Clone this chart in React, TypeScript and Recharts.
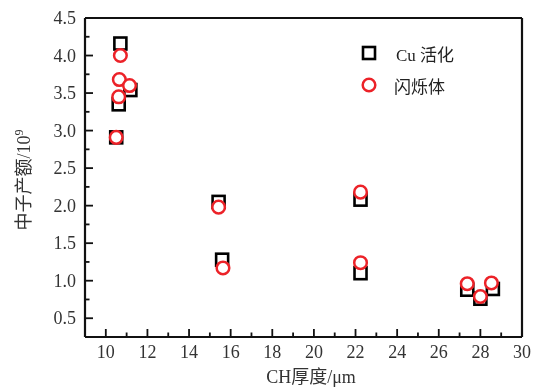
import React from "react";
import { ScatterChart, Scatter, XAxis, YAxis, ReferenceLine } from "recharts";

const cuX = [10.7, 10.62, 11.18, 10.5, 15.42, 15.59, 22.24, 22.24, 27.37, 28.0, 28.6];
const cuY = [4.16, 3.35, 3.54, 2.91, 2.05, 1.28, 2.08, 1.1, 0.88, 0.76, 0.89];
const scX = [10.7, 10.65, 11.14, 10.62, 10.5, 15.42, 15.63, 22.24, 22.24, 27.37, 28.0, 28.53];
const scY = [4.0, 3.68, 3.6, 3.45, 2.91, 1.98, 1.17, 2.18, 1.24, 0.96, 0.79, 0.97];

const xMajor = [10, 12, 14, 16, 18, 20, 22, 24, 26, 28, 30];
const xMinor = [11, 13, 15, 17, 19, 21, 23, 25, 27, 29];
const yMajor = [0.5, 1.0, 1.5, 2.0, 2.5, 3.0, 3.5, 4.0, 4.5];
const yMinor = [0.75, 1.25, 1.75, 2.25, 2.75, 3.25, 3.75, 4.25];

const seriesNames = ["Cu 活化", "闪烁体"];
const xTitle = "CH厚度/μm";
const yTitle = "中子产额/10";
const yTitleSup = "9";

const cuData = cuX.map((x, i) => ({ x, y: cuY[i] }));
const scData = scX.map((x, i) => ({ x, y: scY[i] }));

const FONT = "Liberation Serif, Noto Sans CJK SC, serif";
const AX = "#111";
const RED = "#ec2228";

const yTicks = [...yMajor, ...yMinor].sort((a, b) => a - b);
const xTicks = [...xMajor, ...xMinor].sort((a, b) => a - b);

const YTick = (props: any) => {
  const { x, y, payload } = props;
  const v = Number(payload.value);
  const major = yMajor.some((m) => Math.abs(m - v) < 1e-6);
  const axisX = Number(x) + 9;
  const len = major ? 8 : 4.5;
  return (
    <g>
      <rect x={axisX} y={Number(y) - 0.9} width={len} height={1.8} fill={AX} />
      {major && (
        <text x={x} y={Number(y) + 6} textAnchor="end" fontSize={18} fontFamily={FONT} fill="#333">
          {v.toFixed(1)}
        </text>
      )}
    </g>
  );
};

const XTick = (props: any) => {
  const { x, y, payload } = props;
  const v = Number(payload.value);
  const major = xMajor.includes(v);
  const axisY = Number(y) - 9;
  const len = major ? 8 : 4.5;
  return (
    <g>
      <rect x={Number(x) - 0.9} y={axisY - len} width={1.8} height={len} fill={AX} />
      {major && (
        <text x={x} y={axisY + 21} textAnchor="middle" fontSize={18} fontFamily={FONT} fill="#333">
          {v}
        </text>
      )}
    </g>
  );
};

const Square = (props: any) => {
  const { cx, cy } = props;
  return <rect x={cx - 6} y={cy - 6} width={12} height={12} fill="none" stroke="#000" strokeWidth={2.6} />;
};

const Circ = (props: any) => {
  const { cx, cy } = props;
  return <circle cx={cx} cy={cy} r={6.3} fill="#fff" stroke={RED} strokeWidth={2.5} />;
};

const LegendBox = () => (
  <div
    style={{
      position: "absolute",
      left: 360,
      top: 37,
      width: 160,
      fontFamily: FONT,
      fontSize: 17,
      color: "#222",
    }}
  >
    <div style={{ display: "flex", alignItems: "center", height: 32 }}>
      <svg width={18} height={18}>
        <rect x={3} y={3} width={12} height={12} fill="none" stroke="#000" strokeWidth={2.6} />
      </svg>
      <span style={{ marginLeft: 18 }}>{seriesNames[0]}</span>
    </div>
    <div style={{ display: "flex", alignItems: "center", height: 32 }}>
      <svg width={18} height={18}>
        <circle cx={9} cy={9} r={6.3} fill="none" stroke={RED} strokeWidth={2.5} />
      </svg>
      <span style={{ marginLeft: 16 }}>{seriesNames[1]}</span>
    </div>
  </div>
);

export default function App() {
  return (
    <div style={{ position: "fixed", left: 0, top: 0, width: 534, height: 387, overflow: "visible" }}>
      <ScatterChart width={534} height={387} margin={{ top: 18, right: 12, bottom: 0, left: 0 }}>
        <XAxis
          xAxisId="b"
          type="number"
          dataKey="x"
          domain={[9, 30]}
          ticks={xTicks}
          interval={0}
          height={50}
          tickSize={0}
          tickMargin={9}
          tickLine={false}
          axisLine={{ stroke: AX, strokeWidth: 2.2 }}
          tick={<XTick />}
          allowDataOverflow
          label={{
            content: () => (
              <text x={311} y={383} textAnchor="middle" fontSize={18} fontFamily={FONT} fill="#333">
                {xTitle}
              </text>
            ),
          }}
        />
        <YAxis
          yAxisId="l"
          type="number"
          dataKey="y"
          domain={[0.25, 4.5]}
          ticks={yTicks}
          interval={0}
          width={85}
          tickSize={0}
          tickMargin={9}
          tickLine={false}
          axisLine={{ stroke: AX, strokeWidth: 2.2 }}
          tick={<YTick />}
          allowDataOverflow
          label={{
            content: () => (
              <text
                x={30}
                y={180}
                transform="rotate(-90, 30, 180)"
                textAnchor="middle"
                fontSize={18}
                fontFamily={FONT}
                fill="#333"
              >
                {yTitle}
                <tspan dy={-7} fontSize={12}>
                  {yTitleSup}
                </tspan>
              </text>
            ),
          }}
        />
        <ReferenceLine xAxisId="b" yAxisId="l" y={4.5} stroke={AX} strokeWidth={2.2} ifOverflow="visible" />
        <ReferenceLine xAxisId="b" yAxisId="l" x={30} stroke={AX} strokeWidth={2.2} ifOverflow="visible" />
        <Scatter
          name={seriesNames[0]}
          data={cuData}
          xAxisId="b"
          yAxisId="l"
          shape={<Square />}
          isAnimationActive={false}
        />
        <Scatter
          name={seriesNames[1]}
          data={scData}
          xAxisId="b"
          yAxisId="l"
          shape={<Circ />}
          isAnimationActive={false}
        />
      </ScatterChart>
      <LegendBox />
    </div>
  );
}
